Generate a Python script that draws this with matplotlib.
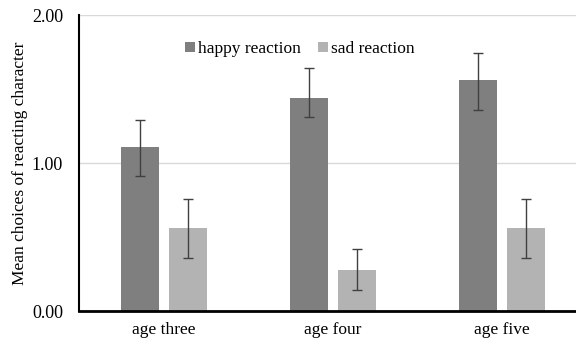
import matplotlib.pyplot as plt
import numpy as np

plt.rcParams['font.family'] = 'Liberation Serif'

groups = ['age three', 'age four', 'age five']
happy = [1.11, 1.44, 1.56]
happy_err_lo = [0.20, 0.13, 0.20]
happy_err_hi = [0.18, 0.20, 0.18]
sad = [0.56, 0.28, 0.56]
sad_err_lo = [0.20, 0.14, 0.20]
sad_err_hi = [0.20, 0.14, 0.20]

fig = plt.figure(figsize=(5.76, 3.44), dpi=100)
ax = fig.add_axes([79 / 576, 1 - 311 / 344, 1 - 79 / 576, 296 / 344])

x = np.arange(len(groups))
w = 0.225
off = 0.142
err_kw = dict(ecolor='#404040', elinewidth=1.0, capsize=3.5, capthick=1.0)
ax.bar(x - off, happy, w, color='#7f7f7f', label='happy reaction', zorder=2,
       yerr=[happy_err_lo, happy_err_hi], error_kw=err_kw)
ax.bar(x + off, sad, w, color='#b3b3b3', label='sad reaction', zorder=2,
       yerr=[sad_err_lo, sad_err_hi], error_kw=err_kw)

ax.set_xlim(-0.5, 2.44)
ax.set_ylim(0, 2.0)
ax.set_yticks([0, 1, 2])
ax.set_yticklabels(['0.00', '1.00', '2.00'], fontsize=13)
ax.set_xticks(x)
ax.set_xticklabels(groups, fontsize=12.5)
ax.tick_params(axis='x', length=0, pad=8)
ax.tick_params(axis='y', length=0, pad=11.5)
ax.grid(axis='y', color='#d9d9d9', linewidth=1.0, zorder=0)
ax.set_axisbelow(True)
for s in ['top', 'right']:
    ax.spines[s].set_visible(False)
ax.spines['left'].set_linewidth(1.5)
ax.spines['bottom'].set_linewidth(2.0)
ax.spines['left'].set_zorder(3)
ax.spines['bottom'].set_zorder(3)

ax.set_ylabel('Mean choices of reacting character', fontsize=12.5, labelpad=3)

ax.legend(loc='upper center', bbox_to_anchor=(0.445, 0.965), ncol=2, frameon=False,
          fontsize=12.5, handlelength=0.55, handleheight=0.55, handletextpad=0.2,
          columnspacing=1.0)

fig.savefig('out.png', dpi=100, facecolor='white')
